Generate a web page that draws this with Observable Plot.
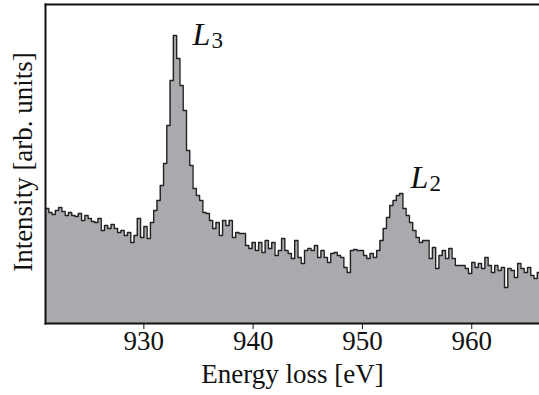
<!DOCTYPE html>
<html>
<head>
<meta charset="utf-8">
<script src="https://cdn.jsdelivr.net/npm/d3@7"></script>
<script src="https://cdn.jsdelivr.net/npm/@observablehq/plot@0.6"></script>
<style>
  html, body { margin: 0; padding: 0; background: #fff; }
  #chart svg { display: block; }
</style>
</head>
<body>
<div id="chart"></div>
<script>
// Energy bins (eV)
const binStart = 921.0;
const binWidth = 0.3;
// Intensity per bin (arb. units)
const intensity = [
  115,111,109,113,116,112,108,111,108,107,
  110,103,108,105,102,101,105,93,98,95,
  99,95,91,93,88,91,81,88,105,86,
  97,85,101,113,123,138,160,198,243,288,
  265,238,213,173,158,135,128,
  123,111,110,103,95,101,88,103,98,103,
  86,91,90,90,78,75,81,73,81,71,
  83,75,81,68,73,85,73,70,65,83,
  66,60,73,75,73,78,66,73,66,61,
  70,71,68,66,56,51,73,74,73,73,
  68,65,70,66,73,83,95,106,118,123,
  128,130,115,108,101,93,86,81,83,83,
  65,76,55,68,73,65,75,65,58,58,
  58,55,50,61,56,60,55,66,58,51,
  58,53,56,36,55,53,46,60,55,51,
  56,48,45,51
];
const xTicks = [930, 940, 950, 960];
const peakLabels = [
  {name: "L", sub: "3", e: 934.45, v: 289},
  {name: "L", sub: "2", e: 954.4, v: 146}
];

const pts = intensity.map((v, i) => ({e: binStart + i * binWidth, v}));
pts.push({e: binStart + intensity.length * binWidth, v: intensity[intensity.length - 1]});

const serif = "Liberation Serif";

const chart = Plot.plot({
  width: 539,
  height: 395,
  marginLeft: 45,
  marginTop: 4,
  marginRight: 0,
  marginBottom: 72,
  style: {fontFamily: "'Liberation Serif', serif", background: "#fff", color: "#111"},
  x: {domain: [921, 966.2]},
  y: {domain: [0, 319]},
  marks: [
    Plot.areaY(pts, {x: "e", y: "v", curve: "step-after", fill: "#a9aaad"}),
    Plot.lineY(pts, {x: "e", y: "v", curve: "step-after", stroke: "#222", strokeWidth: 1.4}),
    Plot.frame({anchor: "top", stroke: "#111", strokeWidth: 1.8}),
    Plot.frame({anchor: "left", stroke: "#111", strokeWidth: 2}),
    Plot.frame({anchor: "bottom", stroke: "#111", strokeWidth: 2}),
    Plot.axisX({ticks: xTicks, tickSize: 6, tickFormat: () => "", label: null, stroke: "#111"}),
    Plot.axisY({ticks: [], label: null}),
    Plot.text(xTicks, {x: (d) => d, frameAnchor: "bottom", dy: 26, fontSize: 27, fontFamily: serif, fill: "#111", text: (d) => String(d)}),
    Plot.text(["Energy loss [eV]"], {frameAnchor: "bottom", dy: 59, fontSize: 27, fontFamily: serif, fill: "#111"}),
    Plot.text(["Intensity [arb. units]"], {frameAnchor: "left", textAnchor: "middle", rotate: -90, dx: -22, dy: -2, fontSize: 27, fontFamily: serif, fill: "#111"}),
    Plot.text(peakLabels, {x: "e", y: "v", text: "name", textAnchor: "start", fontSize: 32, fontStyle: "italic", fontFamily: serif, fill: "#111"}),
    Plot.text(peakLabels, {x: "e", y: "v", text: "sub", textAnchor: "start", fontSize: 23, dx: 19, dy: 6, fontFamily: serif, fill: "#111"})
  ]
});
document.getElementById("chart").appendChild(chart);
</script>
</body>
</html>
